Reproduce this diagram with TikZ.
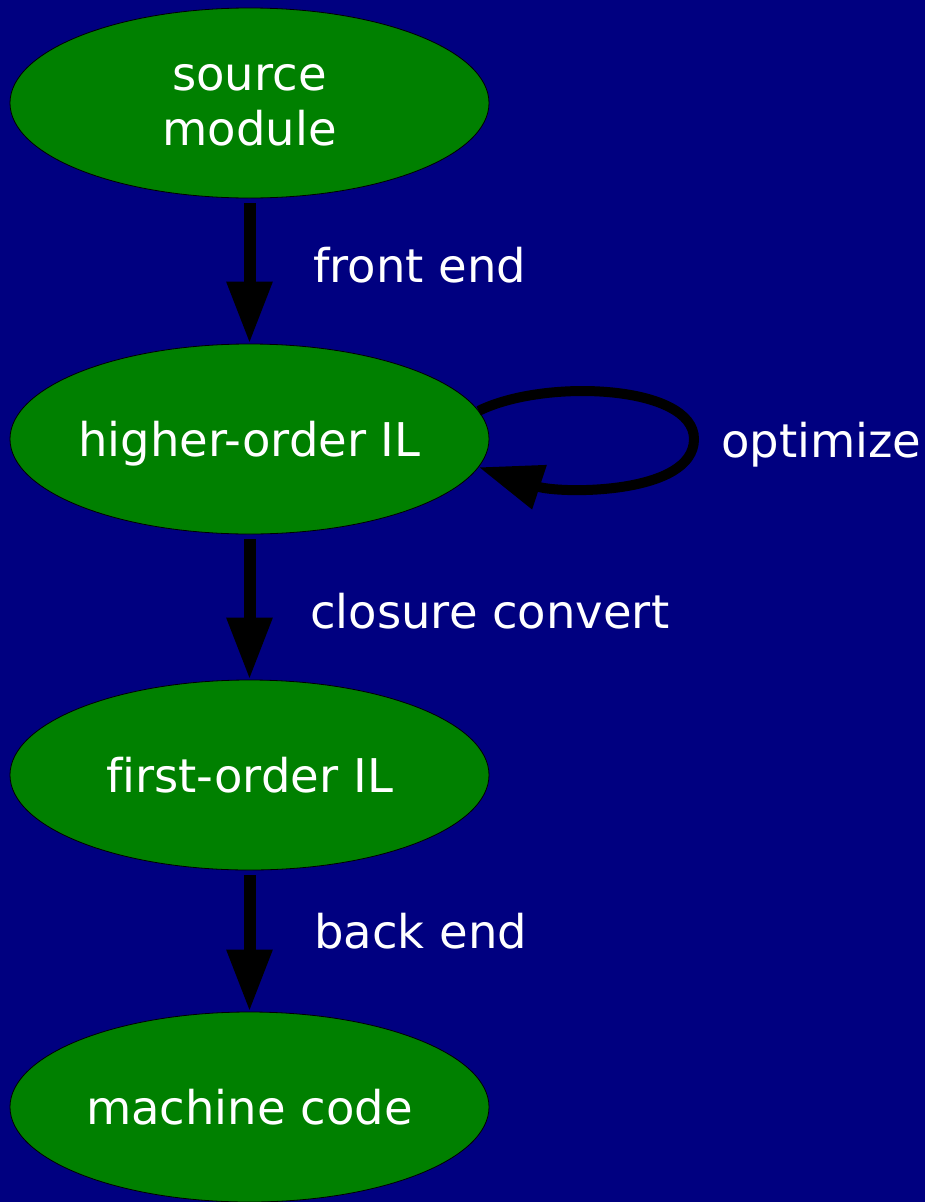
\documentclass[tikz,border=0pt]{standalone}
\usepackage{fontspec}
\setmainfont[Ligatures=NoCommon]{DejaVu Sans}
\usetikzlibrary{arrows.meta,shapes.geometric}
\definecolor{navybg}{HTML}{000080}
\definecolor{nodegreen}{HTML}{008000}
\begin{document}
\begin{tikzpicture}[x=1pt,y=-1pt,
  stage/.style={ellipse,draw=black,line width=0.8pt,fill=nodegreen,text=white,
    minimum width=479pt,minimum height=190pt,inner sep=0pt,inner xsep=-60pt,
    font=\fontsize{46.5}{55}\selectfont,align=center},
  single/.style={text height=40pt,text depth=6pt},
  edge/.style={draw=black,line width=12pt,-{Triangle[length=62pt,width=43pt]},shorten <=5pt},
  loopedge/.style={draw=black,line width=10pt,-{Triangle[length=64pt,width=44pt]}},
  elabel/.style={text=white,font=\fontsize{46.5}{55}\selectfont,anchor=base west,inner sep=0pt}]
\fill[navybg] (0,0) rectangle (925,1202);
\useasboundingbox (0,0) rectangle (925,1202);

\node[stage] (src) at (249.5,103) {\rule{0pt}{31pt}source\\module};
\node[stage,single] (hi) at (249.5,439) {higher-order IL};
\node[stage,single] (fo) at (249.5,775) {first-order IL};
\node[stage,single] (mc) at (249.5,1107) {machine code};

\draw[edge] (src) -- (hi);
\draw[edge] (hi) -- (fo);
\draw[edge] (fo) -- (mc);
\draw[loopedge] (hi.7) .. controls (545,378) and (694,385) .. (694,439)
  .. controls (694,495) and (560,494) .. (hi.-7);

\node[elabel] (lfront) at (313,282) {front end};
\node[elabel] (lopt) at (721,457) {optimize};
\node[elabel] (lclos) at (310,628) {closure convert};
\node[elabel] (lback) at (314,948) {back end};
\end{tikzpicture}
\end{document}
